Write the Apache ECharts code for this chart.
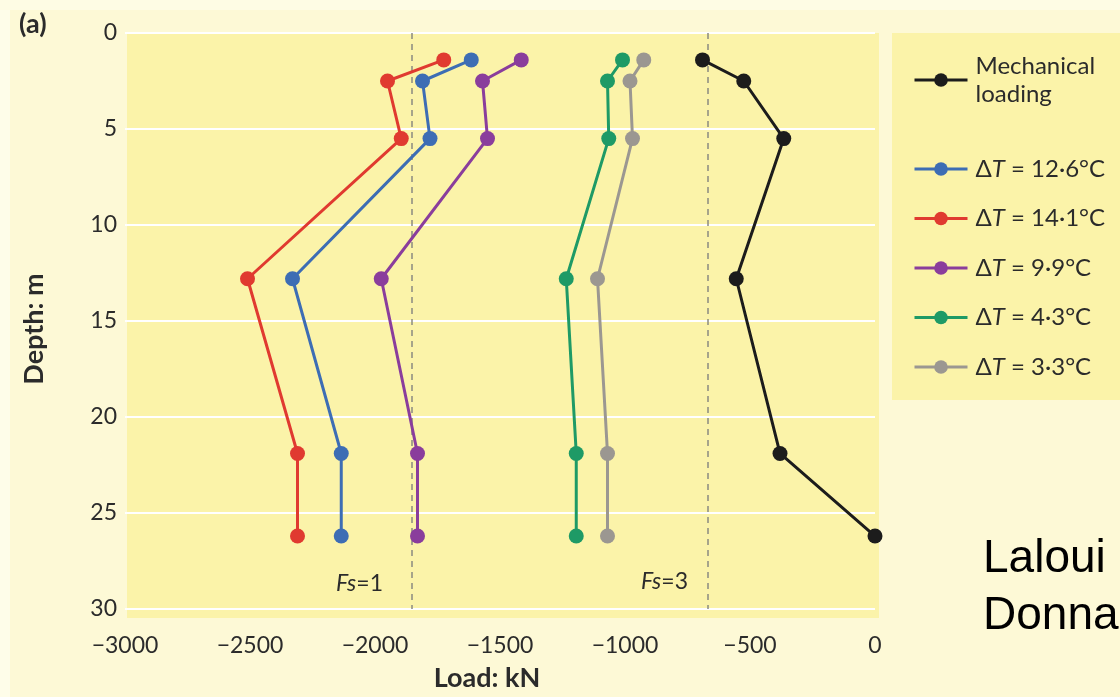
<!DOCTYPE html>
<html>
<head>
<meta charset="utf-8">
<script src="https://cdn.jsdelivr.net/npm/echarts@6/dist/echarts.min.js"></script>
<style>
html,body{margin:0;padding:0;background:#fdf9d6;}
#chart{width:1120px;height:697px;}
</style>
</head>
<body>
<div id="chart"></div>
<script>
// ---- data ----
const depths = [1.4, 2.5, 5.5, 12.8, 21.9, 26.2];           // Depth: m
const loadMech = [-690, -525, -365, -555, -380, 0];          // Mechanical loading
const load126 = [-1615, -1810, -1780, -2330, -2135, -2135];  // ΔT = 12·6°C
const load141 = [-1725, -1950, -1895, -2510, -2310, -2310];  // ΔT = 14·1°C
const load99  = [-1415, -1570, -1550, -1975, -1830, -1830];  // ΔT = 9·9°C
const load43  = [-1010, -1070, -1065, -1235, -1195, -1195];  // ΔT = 4·3°C
const load33  = [-925, -980, -970, -1110, -1070, -1070];     // ΔT = 3·3°C
const fsLines = [-1855, -670];                               // Fs = 1, Fs = 3
const xTicks = [-3000, -2500, -2000, -1500, -1000, -500, 0];
const yTicks = [0, 5, 10, 15, 20, 25, 30];

const seriesDefs = [
  {name: 'Mechanical loading', loads: loadMech, color: '#1c1c1c'},
  {name: 'ΔT = 12·6°C', loads: load126, color: '#3d6db4'},
  {name: 'ΔT = 14·1°C', loads: load141, color: '#e03a30'},
  {name: 'ΔT = 9·9°C',  loads: load99,  color: '#8a3d9c'},
  {name: 'ΔT = 4·3°C',  loads: load43,  color: '#1e9a66'},
  {name: 'ΔT = 3·3°C',  loads: load33,  color: '#9b9791'}
];

const FONT = 'Lato, "Open Sans", sans-serif';
const TXT = '#2b2b2b';

const chart = echarts.init(document.getElementById('chart'), null, {renderer: 'canvas'});

const series = seriesDefs.map((s, idx) => ({
  name: s.name,
  type: 'line',
  data: s.loads.map((v, i) => [v, depths[i]]),
  symbol: 'circle',
  symbolSize: 15,
  showSymbol: true,
  lineStyle: {width: 3, color: s.color},
  itemStyle: {color: s.color},
  z: 5,
  animation: false,
  markLine: idx === 0 ? {
    silent: true,
    symbol: ['none', 'none'],
    label: {show: false},
    lineStyle: {type: [6, 5], color: '#8a8a80', width: 1.5},
    data: fsLines.map(v => ({xAxis: v}))
  } : undefined
}));

const minus = v => (v < 0 ? '\u2212' + Math.abs(v) : String(v));

const legendText = {
  color: TXT, fontFamily: FONT, fontSize: 24, padding: [0, 0, 0, 3],
  rich: {i: {fontStyle: 'italic', fontFamily: FONT, fontSize: 24, color: TXT}}
};

chart.setOption({
  backgroundColor: '#fdf9d6',
  animation: false,
  grid: {left: 125, right: 245, top: 33, bottom: 88, containLabel: false},
  xAxis: {
    type: 'value', min: -3000, max: 0, interval: 500,
    name: 'Load: kN', nameLocation: 'middle', nameGap: 56,
    nameTextStyle: {fontFamily: FONT, fontWeight: 'bold', fontSize: 27, color: TXT, padding: [0, 26, 0, 0]},
    axisLine: {show: false}, axisTick: {show: false},
    splitLine: {show: false},
    axisLabel: {fontFamily: FONT, fontSize: 23, color: TXT, margin: 25,
      formatter: v => xTicks.includes(v) ? minus(v) : ''}
  },
  yAxis: {
    type: 'value', min: 0, max: 30, interval: 5, inverse: true,
    name: 'Depth: m', nameLocation: 'middle', nameGap: 77, nameRotate: 90,
    nameTextStyle: {fontFamily: FONT, fontWeight: 'bold', fontSize: 27, color: TXT, padding: [0, 16, 0, 0]},
    axisLine: {show: false}, axisTick: {show: false},
    splitLine: {show: true, lineStyle: {color: '#ffffff', width: 2}},
    axisLabel: {fontFamily: FONT, fontSize: 23, color: TXT, margin: 8,
      formatter: v => yTicks.includes(v) ? String(v) : ''}
  },
  legend: [
    {
      data: ['Mechanical loading'],
      left: 908, top: 47, orient: 'vertical',
      itemWidth: 53, itemHeight: 17,
      lineStyle: {width: 3},
      formatter: () => 'Mechanical\nloading',
      textStyle: Object.assign({}, legendText, {lineHeight: 28}),
      selectedMode: false
    },
    {
      data: ['ΔT = 12·6°C', 'ΔT = 14·1°C', 'ΔT = 9·9°C', 'ΔT = 4·3°C', 'ΔT = 3·3°C'],
      left: 908, top: 152, orient: 'vertical',
      itemWidth: 53, itemHeight: 17, itemGap: 25.5,
      lineStyle: {width: 3},
      formatter: name => name.replace('T', '{i|T}'),
      textStyle: Object.assign({}, legendText, {lineHeight: 23}),
      selectedMode: false
    }
  ],
  graphic: [
    {type: 'rect', z: -10, silent: true, shape: {x: 0, y: 0, width: 10, height: 697}, style: {fill: '#fefde9'}},
    {type: 'rect', z: -10, silent: true, shape: {x: 0, y: 0, width: 1120, height: 10}, style: {fill: '#fefce4'}},
    {type: 'rect', z: -9, silent: true, shape: {x: 127, y: 33, width: 752, height: 585}, style: {fill: '#fbf3a9'}},
    {type: 'rect', z: -9, silent: true, shape: {x: 892, y: 33, width: 240, height: 367}, style: {fill: '#fbf3a9'}},
    {type: 'text', z: 10, silent: true, style: {text: '(a)', x: 19, y: 24, verticalAlign: 'middle',
      font: 'bold 27px Lato, sans-serif', fill: TXT}},
    {type: 'text', z: 10, silent: true, style: {text: '{i|Fs}=1', x: 383, y: 584, align: 'right', verticalAlign: 'middle',
      font: '23px Lato, sans-serif', fill: TXT, rich: {i: {fontStyle: 'italic', fontSize: 23, fontFamily: 'Lato', fill: TXT}}}},
    {type: 'text', z: 10, silent: true, style: {text: '{i|Fs}=3', x: 688, y: 582, align: 'right', verticalAlign: 'middle',
      font: '23px Lato, sans-serif', fill: TXT, rich: {i: {fontStyle: 'italic', fontSize: 23, fontFamily: 'Lato', fill: TXT}}}},
    {type: 'text', z: 10, silent: true, style: {text: 'Laloui', x: 983, y: 559, verticalAlign: 'middle',
      font: '46px "Liberation Sans", Arial, sans-serif', fill: '#000000'}},
    {type: 'text', z: 10, silent: true, style: {text: 'Donna', x: 983, y: 616, verticalAlign: 'middle',
      font: '46px "Liberation Sans", Arial, sans-serif', fill: '#000000'}}
  ],
  series: series
});
</script>
</body>
</html>
